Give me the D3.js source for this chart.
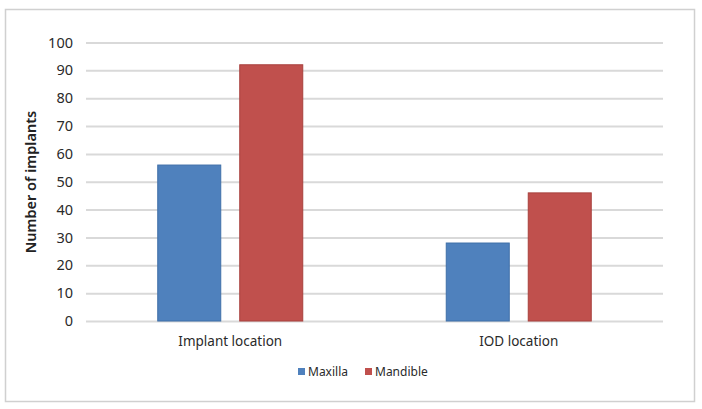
<!DOCTYPE html>
<html><head><meta charset="utf-8">
<script src="https://cdn.jsdelivr.net/npm/d3@7"></script>
<style>body{margin:0;background:#fff;} svg{display:block;}</style>
</head><body>
<svg id="c" width="702" height="409"></svg>
<script>
const categories = ["Implant location", "IOD location"];
const seriesNames = ["Maxilla", "Mandible"];
const maxillaValues = [56, 28];
const mandibleValues = [92, 46];
const yTicks = [0, 10, 20, 30, 40, 50, 60, 70, 80, 90, 100];
const colors = ["#4f81bd", "#c0504d"];
const strokes = ["#3f6fa8", "#a8403d"];

const svg = d3.select("#c");
const font = "'Noto Sans', 'Open Sans', sans-serif";
svg.append("rect").attr("x", 5.5).attr("y", 9.5).attr("width", 689).attr("height", 392)
  .attr("fill", "#fff").attr("stroke", "#d0d0d0").attr("stroke-width", 1.5);

const m = {l: 86, r: 663, t: 42.5, b: 321};
const y = d3.scaleLinear().domain([0, 100]).range([m.b, m.t]);
const x0 = d3.scaleBand().domain(categories).range([m.l, m.r]);
const inner = 145;
const off = (x0.bandwidth() - inner) / 2;
const x1 = d3.scaleBand().domain(seriesNames).range([off, off + inner]).paddingInner(0.2317).paddingOuter(0);

const yAxis = d3.axisLeft(y).tickValues(yTicks).tickSize(-(m.r - m.l)).tickPadding(13);
const gy = svg.append("g").attr("transform", `translate(${m.l},0)`).call(yAxis);
gy.select(".domain").remove();
gy.selectAll(".tick line").attr("stroke", "#d9d9d9").attr("stroke-width", 2);
gy.selectAll(".tick text").attr("font-family", font).attr("font-size", 14.5).attr("fill", "#2a2a2a");

const data = categories.map((c, i) => ({cat: c, vals: [maxillaValues[i], mandibleValues[i]]}));
const g = svg.append("g");
data.forEach(d => {
  d.vals.forEach((v, j) => {
    g.append("rect")
      .attr("x", x0(d.cat) + x1(seriesNames[j]))
      .attr("y", y(v))
      .attr("width", x1.bandwidth())
      .attr("height", y(0) - y(v))
      .attr("fill", colors[j]).attr("stroke", strokes[j]).attr("stroke-width", 1);
  });
});

const xAxis = d3.axisBottom(x0).tickSize(0).tickPadding(15);
const gx = svg.append("g").attr("transform", `translate(0,${m.b})`).call(xAxis);
gx.select(".domain").remove();
gx.selectAll(".tick text").attr("font-family", font).attr("font-size", 13.5).attr("fill", "#2a2a2a");

svg.append("text").attr("transform", "translate(36,182) rotate(-90)")
  .attr("text-anchor", "middle").attr("font-family", font).attr("font-size", 14.5)
  .attr("font-weight", 600).attr("fill", "#222").text("Number of implants");

const leg = svg.append("g");
const legX = [298, 365];
seriesNames.forEach((s, j) => {
  leg.append("rect").attr("x", legX[j]).attr("y", 368).attr("width", 7).attr("height", 7).attr("fill", colors[j]);
  leg.append("text").attr("x", legX[j] + 10).attr("y", 376).attr("font-family", font)
    .attr("font-size", 12).attr("fill", "#2a2a2a").text(s);
});
</script>
</body></html>
